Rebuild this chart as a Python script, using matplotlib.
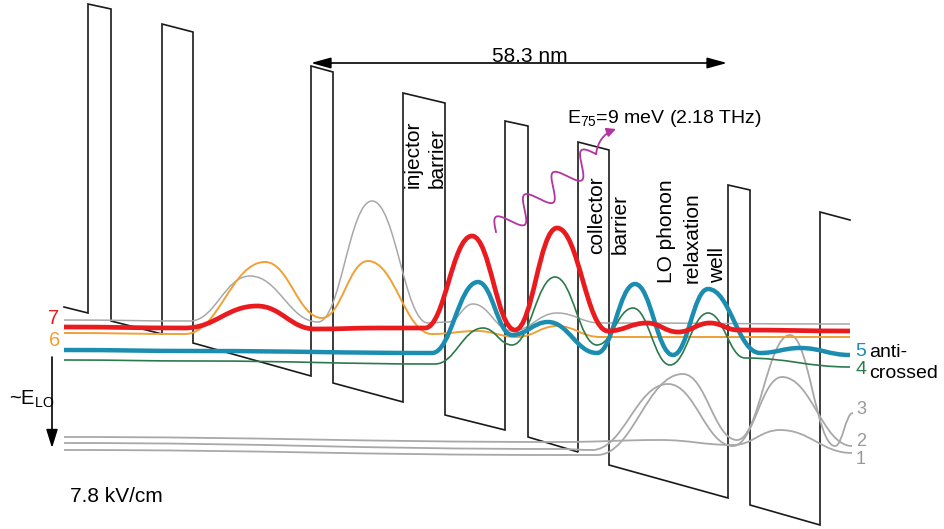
import matplotlib
matplotlib.use('Agg')
import matplotlib.pyplot as plt
from matplotlib.path import Path
from matplotlib.patches import PathPatch
import numpy as np

plt.rcParams['font.family'] = ['Liberation Sans', 'DejaVu Sans']
plt.rcParams['mathtext.fontset'] = 'custom'
plt.rcParams['mathtext.rm'] = 'Liberation Sans'
plt.rcParams['mathtext.it'] = 'Liberation Sans:italic'

# ---------------- data (pixel coordinates) ----------------
# conduction-band profile vertices
band_x = [64, 88, 88, 111, 111, 162, 162, 193, 193, 311, 311, 333, 333, 403, 403, 445, 445,
          505, 505, 528, 528, 578, 578, 609, 609, 728, 728, 750, 750, 820, 820, 850]
band_y = [307, 313, 4, 9, 321, 334, 24, 32, 343, 376, 66, 72, 383, 402, 93, 103, 415,
          430, 121, 126, 437, 452, 142, 150, 465, 498, 185, 190, 505, 525, 212, 220]

# wavefunction extrema (x, y)
psi8_x = [64, 190, 250, 318, 372, 428, 448, 473, 512, 557, 600, 850]
psi8_y = [320, 321, 276, 322, 201, 323, 322, 304, 331, 313, 323, 324]

psi7_x = [64, 185, 257, 315, 380, 425, 472, 515, 557, 608, 647, 678, 710, 738, 850]
psi7_y = [327, 328, 306, 329, 328, 328, 236, 330, 228, 331, 323, 332, 323, 330, 331]

psi6_x = [64, 185, 265, 322, 368, 432, 477, 517, 557, 600, 850]
psi6_y = [333, 334, 262, 318, 261, 334, 331, 337, 326, 337, 337]

psi5_x = [64, 200, 432, 478, 512, 548, 597, 635, 673, 708, 760, 800, 850]
psi5_y = [350, 351, 353, 282, 335, 322, 353, 284, 355, 289, 353, 348, 355]

psi4_x = [64, 200, 435, 483, 512, 555, 597, 633, 670, 708, 745, 850]
psi4_y = [360, 361, 364, 328, 345, 277, 345, 308, 365, 313, 358, 367]

psi1_x = [64, 560, 660, 733, 780, 852]
psi1_y = [437, 442, 440, 445, 430, 453]

psi2_x = [64, 560, 592, 668, 733, 782, 852]
psi2_y = [443, 449, 450, 384, 446, 377, 446]

psi3_x = [64, 560, 597, 683, 737, 790, 835, 853]
psi3_y = [450, 455, 455, 374, 440, 335, 446, 413]

# level labels
lab_left = ['7', '6']
lab_left_xy = [(54, 319), (55, 341)]
lab_right = ['5', '4', '3', '2', '1']
lab_right_y = [351, 370, 410, 441, 460]

# ---------------- colours ----------------
RED = '#ea1b1f'
ORANGE = '#f0a035'
GRAY = '#a8a8a8'
BLUE = '#1b8db0'
GREEN = '#2b7a4e'
MAG = '#b3339f'
LGRAY = '#9a9a9a'

fig = plt.figure(figsize=(9.45, 5.29), dpi=100)
ax = fig.add_axes([0, 0, 1, 1])
ax.set_xlim(0, 945)
ax.set_ylim(529, 0)
ax.axis('off')


def smooth_path(xs, ys, k=0.42):
    verts = [(xs[0], ys[0])]
    codes = [Path.MOVETO]
    for i in range(len(xs) - 1):
        d = xs[i + 1] - xs[i]
        verts += [(xs[i] + k * d, ys[i]), (xs[i + 1] - k * d, ys[i + 1]), (xs[i + 1], ys[i + 1])]
        codes += [Path.CURVE4] * 3
    return Path(verts, codes)


# band profile
ax.plot(band_x, band_y, color='#1a1a1a', lw=1.2, zorder=2, solid_joinstyle='miter')

curves = [
    (psi3_x, psi3_y, GRAY, 1.3, 3),
    (psi2_x, psi2_y, GRAY, 1.3, 3),
    (psi1_x, psi1_y, GRAY, 1.3, 3),
    (psi8_x, psi8_y, GRAY, 1.1, 3),
    (psi6_x, psi6_y, ORANGE, 1.4, 4),
    (psi4_x, psi4_y, GREEN, 1.2, 4),
    (psi5_x, psi5_y, BLUE, 3.2, 5),
    (psi7_x, psi7_y, RED, 3.4, 6),
]
for xs, ys, c, lw, z in curves:
    ax.add_patch(PathPatch(smooth_path(xs, ys), fill=False, edgecolor=c, lw=lw,
                           zorder=z, capstyle='butt'))

# level labels
ax.text(*lab_left_xy[0], lab_left[0], color=RED, fontsize=14.5, ha='center', va='center')
ax.text(*lab_left_xy[1], lab_left[1], color=ORANGE, fontsize=14.5, ha='center', va='center')
rcols = [BLUE, GREEN, LGRAY, LGRAY, LGRAY]
rsizes = [14, 14, 13, 13, 13]
for t, y, c, fs in zip(lab_right, lab_right_y, rcols, rsizes):
    ax.text(861, y, t, color=c, fontsize=fs, ha='center', va='center')
ax.text(869, 357, 'anti-', fontsize=14, ha='left', va='baseline')
ax.text(869, 378, 'crossed', fontsize=14, ha='left', va='baseline')

# ~E_LO arrow
ax.annotate('', xy=(52, 448), xytext=(52, 357),
            arrowprops=dict(arrowstyle='-|>,head_length=0.8,head_width=0.25',
                            color='k', lw=1.2, mutation_scale=14, shrinkA=0, shrinkB=0))
ax.text(9, 405, r'~E$_{\mathrm{LO}}$', fontsize=14.5, ha='left', va='baseline')

ax.text(70, 502, '7.8 kV/cm', fontsize=15, ha='left', va='baseline')

# period arrow
ax.annotate('', xy=(311, 63), xytext=(727, 63),
            arrowprops=dict(arrowstyle='<|-|>,head_length=0.8,head_width=0.22',
                            color='k', lw=1.2, mutation_scale=15, shrinkA=0, shrinkB=0))
ax.text(530, 62, '58.3 nm', fontsize=15, ha='center', va='baseline')

# photon transition label
ax.text(567, 123, r'E$_{\mathrm{75}}$=9 meV (2.18 THz)', fontsize=14, ha='left', va='baseline')

# photon squiggle
t = np.linspace(0, 1, 400)
x0, y0, x1, y1 = 496, 232, 596, 154
dx, dy = x1 - x0, y1 - y0
L = np.hypot(dx, dy)
nx, ny = -dy / L, dx / L
s = -12 * np.sin(2 * np.pi * 3.5 * t)
sx = x0 + dx * t + nx * s
sy = y0 + dy * t + ny * s
ax.plot(sx, sy, color=MAG, lw=1.3, zorder=7)
ax.annotate('', xy=(616, 129), xytext=(sx[-1], sy[-1]),
            arrowprops=dict(arrowstyle='-|>,head_length=0.6,head_width=0.3',
                            color=MAG, lw=1.3, mutation_scale=9, shrinkA=0, shrinkB=0,
                            connectionstyle='arc3,rad=-0.3'), zorder=7)

# rotated region labels
rot = dict(rotation=90, ha='center', va='bottom', fontsize=15)
ax.text(413, 188, 'injector', **rot)
ax.text(437, 188, 'barrier', **rot)
ax.text(597, 254, 'collector', **rot)
ax.text(620, 254, 'barrier', **rot)
ax.text(667, 283, 'LO phonon', **rot)
ax.text(692, 283, 'relaxation', **rot)
ax.text(718, 283, 'well', **rot)

fig.savefig('out.png', dpi=100)
